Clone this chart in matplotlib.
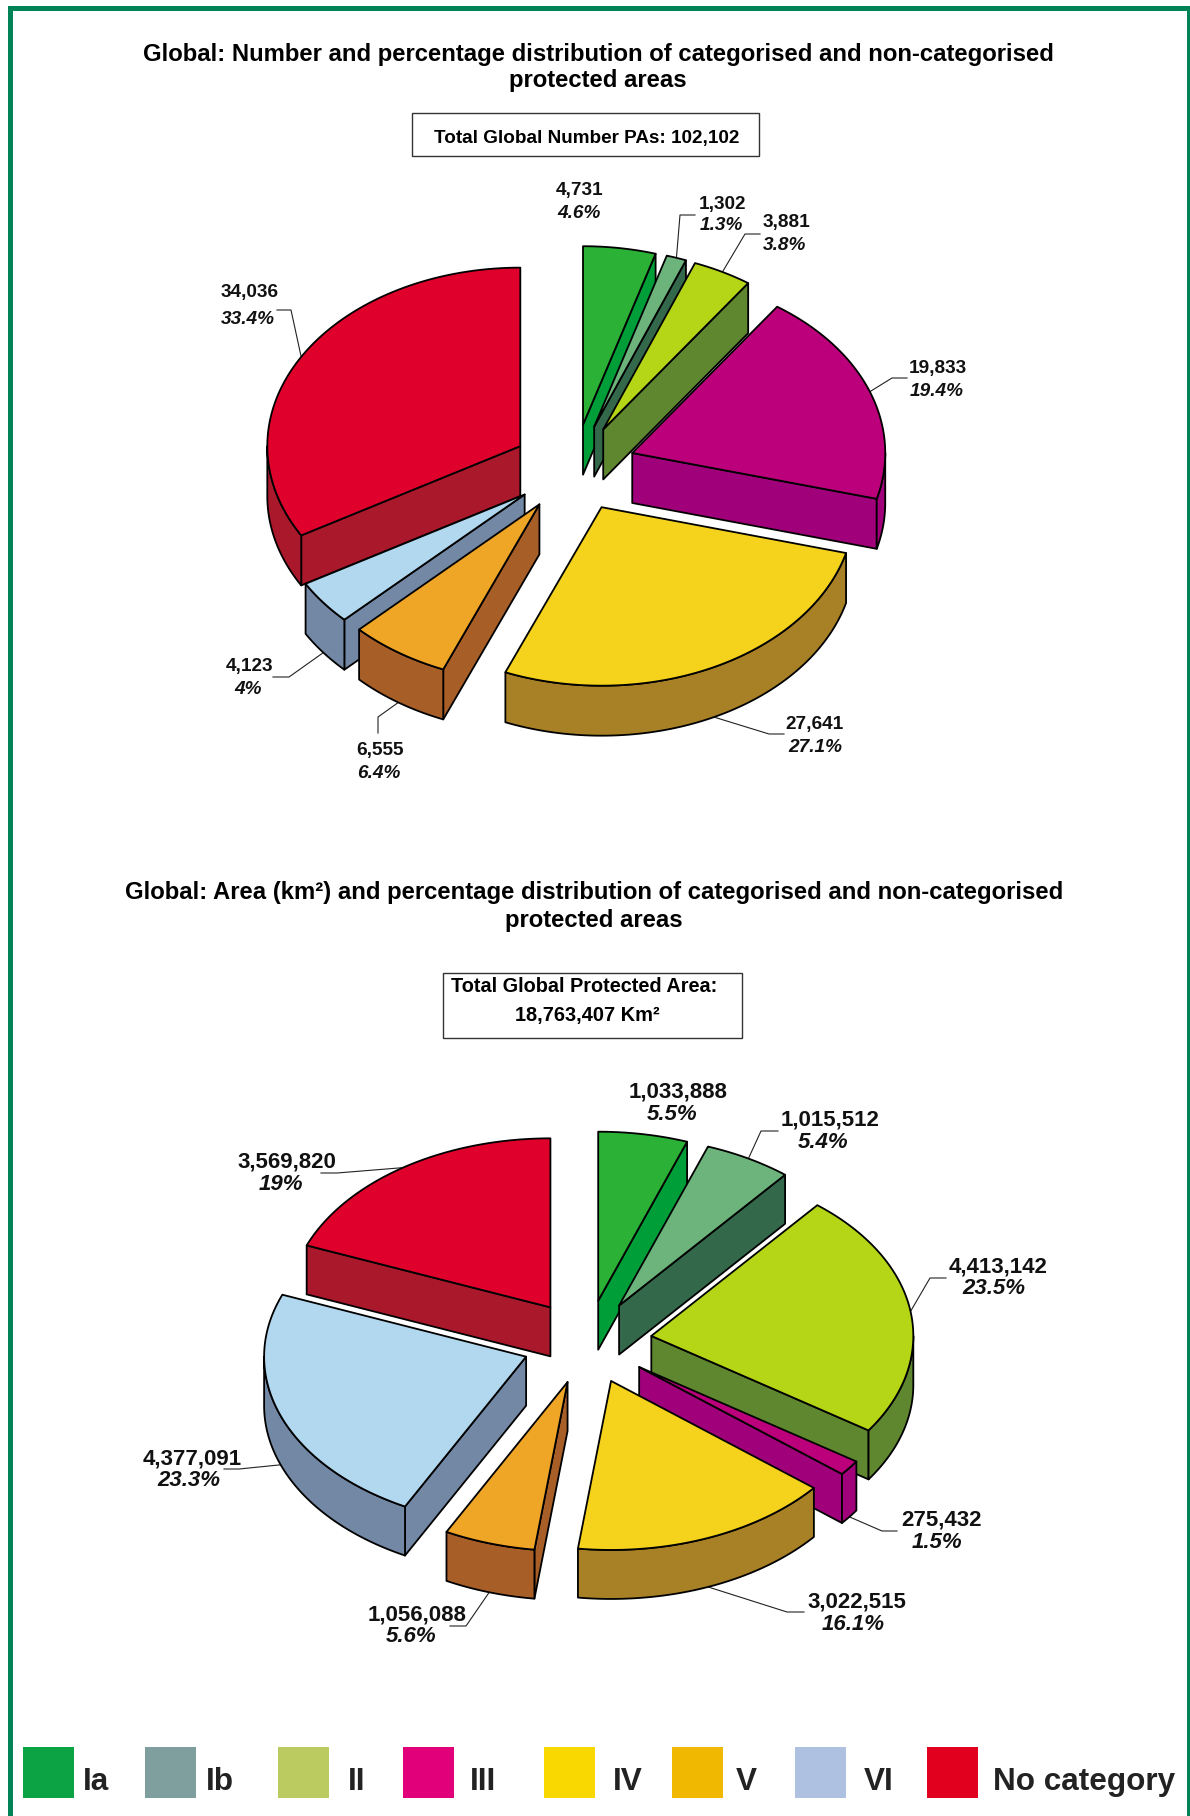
import numpy as np
import matplotlib
matplotlib.use("Agg")
import matplotlib.pyplot as plt
from matplotlib.patches import Polygon, Rectangle

plt.rcParams["font.family"] = ["Liberation Sans", "DejaVu Sans"]

categories = ["Ia", "Ib", "II", "III", "IV", "V", "VI", "No category"]
number_values = [4731, 1302, 3881, 19833, 27641, 6555, 4123, 34036]
number_pct = [4.6, 1.3, 3.8, 19.4, 27.1, 6.4, 4, 33.4]
area_values = [1033888, 1015512, 4413142, 275432, 3022515, 1056088, 4377091, 3569820]
area_pct = [5.5, 5.4, 23.5, 1.5, 16.1, 5.6, 23.3, 19]

top_colors = ["#2AB136", "#6DB37C", "#B5D616", "#BC007B", "#F5D21C", "#EFA526", "#B2D8EF", "#DF002B"]
wall_colors = ["#009E38", "#33694A", "#5F8730", "#A0007A", "#A88025", "#A85F27", "#7388A5", "#A9182B"]
legend_colors = ["#0BA344", "#7F9F9E", "#BCCB5F", "#E2007A", "#F8D800", "#F0B800", "#AFC1E0", "#E2001F"]

# layout, all in reference pixels
GREEN = "#008457"
NUMBER_PIE = dict(cx=574, cy=468, rx=253, ry=178.5, depth=50, explode=62)
AREA_PIE = dict(cx=587, cy=1342, rx=262, ry=169, depth=49, explode=65)

# label centres (value line, pct line) per slice
number_text = [((580, 190), (579, 213)), ((722, 204), (721, 226)), ((786, 223), (785, 246)),
               ((938, 368), (937, 391)), ((815, 725), (815, 748)), ((380, 750), (379, 773)),
               ((250, 667), (248, 689)), ((250, 293), (248, 320))]
area_text = [((678, 1092), (672, 1114)), ((830, 1120), (823, 1142)), ((998, 1267), (994, 1289)),
             ((941, 1520), (937, 1543)), ((857, 1602), (853, 1624)), ((417, 1615), (411, 1636)),
             ((192, 1459), (189, 1481)), ((287, 1162), (281, 1184))]
# leader elbow and end, None = no leader
number_lead = [None, ((680, 215), (695, 215)), ((745, 234), (760, 234)), ((892, 378), (907, 378)),
               ((769, 734), (784, 734)), ((378, 717), (378, 733)), ((289, 677), (273, 677)),
               ((291, 310), (277, 310))]
area_lead = [None, ((761, 1131), (778, 1131)), ((930, 1278), (946, 1278)), ((882, 1531), (897, 1531)),
             ((787, 1612), (804, 1612)), ((466, 1626), (450, 1626)), ((239, 1469), (224, 1469)),
             ((337, 1173), (321, 1173))]


def arc(cx, cy, rx, ry, a0, a1, n=80):
    t = np.linspace(a0, a1, n)
    return np.column_stack([cx + rx * np.sin(t), cy - ry * np.cos(t)])


def draw_pie(ax, values, pct, text_pos, leads, cx, cy, rx, ry, depth, explode, fs):
    frac = np.asarray(values, float) / np.sum(values)
    ends = 2 * np.pi * np.cumsum(frac)
    starts = ends - 2 * np.pi * frac
    mids = (starts + ends) / 2
    k = ry / rx
    down = np.array([0, depth])
    style = dict(ec="black", lw=1.3, joinstyle="round", zorder=3)
    # back slices first so the front ones paint over them
    for i in np.argsort(-np.cos(mids)):
        a0, a1 = starts[i], ends[i]
        x0 = cx + explode * np.sin(mids[i])
        y0 = cy - explode * k * np.cos(mids[i])
        apex = np.array([x0, y0])
        rim = arc(x0, y0, rx, ry, a0, a1)
        # radial walls only where the outward normal faces the viewer
        for p, normal in ((rim[0], a0 - np.pi / 2), (rim[-1], a1 + np.pi / 2)):
            if np.cos(normal) < -1e-6:
                quad = np.array([apex, p, p + down, apex + down])
                ax.add_patch(Polygon(quad, fc=wall_colors[i], **style))
        lo, hi = max(a0, np.pi / 2), min(a1, 1.5 * np.pi)
        if hi > lo:
            front = arc(x0, y0, rx, ry, lo, hi)
            ax.add_patch(Polygon(np.vstack([front, front[::-1] + down]), fc=wall_colors[i], **style))
        ax.add_patch(Polygon(np.vstack([apex, rim]), fc=top_colors[i], **style))

        if leads[i] is not None:
            a = np.array([x0 + rx * np.sin(mids[i]), y0 - ry * np.cos(mids[i])])
            if np.cos(mids[i]) < 0:
                a = a + down
            (ex, ey), (fx, fy) = leads[i]
            ax.plot([a[0], ex, fx], [a[1], ey, fy], color="#222222", lw=0.8, zorder=2.5)
        (vx, vy), (px, py) = text_pos[i]
        ax.text(vx, vy, f"{values[i]:,}", ha="center", va="center", fontsize=fs,
                fontweight="bold", color="#111111")
        ax.text(px, py, f"{pct[i]:g}%", ha="center", va="center", fontsize=fs,
                fontweight="bold", style="italic", color="#111111")


fig = plt.figure(figsize=(11.9, 18.16), dpi=100)
ax = fig.add_axes([0, 0, 1, 1])
ax.set_xlim(0, 1190)
ax.set_ylim(1816, 0)
ax.axis("off")

# page frame
ax.add_patch(Rectangle((8, 6), 5, 1810, fc=GREEN, ec="none"))
ax.add_patch(Rectangle((8, 6), 1182, 5, fc=GREEN, ec="none"))
ax.add_patch(Rectangle((1187, 6), 3, 1810, fc=GREEN, ec="none"))

TITLE_FS = 17.2
ax.text(598, 55, "Global: Number and percentage distribution of categorised and non-categorised",
        ha="center", va="center", fontsize=TITLE_FS, fontweight="bold")
ax.text(598, 81, "protected areas", ha="center", va="center", fontsize=TITLE_FS, fontweight="bold")
ax.text(594, 893, "Global: Area (km²) and percentage distribution of categorised and non-categorised",
        ha="center", va="center", fontsize=TITLE_FS, fontweight="bold")
ax.text(594, 920, "protected areas", ha="center", va="center", fontsize=TITLE_FS, fontweight="bold")

ax.add_patch(Rectangle((412, 113), 347, 43, fc="white", ec="#333333", lw=1))
ax.text(587, 138, "Total Global Number PAs: 102,102", ha="center", va="center",
        fontsize=13.6, fontweight="bold")
ax.add_patch(Rectangle((443, 973), 299, 65, fc="white", ec="#333333", lw=1))
ax.text(584, 987, "Total Global Protected Area:", ha="center", va="center",
        fontsize=14.3, fontweight="bold")
ax.text(587, 1016, "18,763,407 Km²", ha="center", va="center", fontsize=14.4, fontweight="bold")

draw_pie(ax, number_values, number_pct, number_text, number_lead, fs=13.7, **NUMBER_PIE)
draw_pie(ax, area_values, area_pct, area_text, area_lead, fs=16, **AREA_PIE)

# legend
swatch_x = [23, 145, 278, 403, 544, 672, 795, 927]
label_x = [83, 206, 348, 470, 613, 736, 864, 993]
for name, c, sx, lx in zip(categories, legend_colors, swatch_x, label_x):
    ax.add_patch(Rectangle((sx, 1747), 51, 51, fc=c, ec="none"))
    ax.text(lx, 1782, name, ha="left", va="center", fontsize=22.7, fontweight="bold", color="#222222")

fig.savefig("out.png", dpi=100)
